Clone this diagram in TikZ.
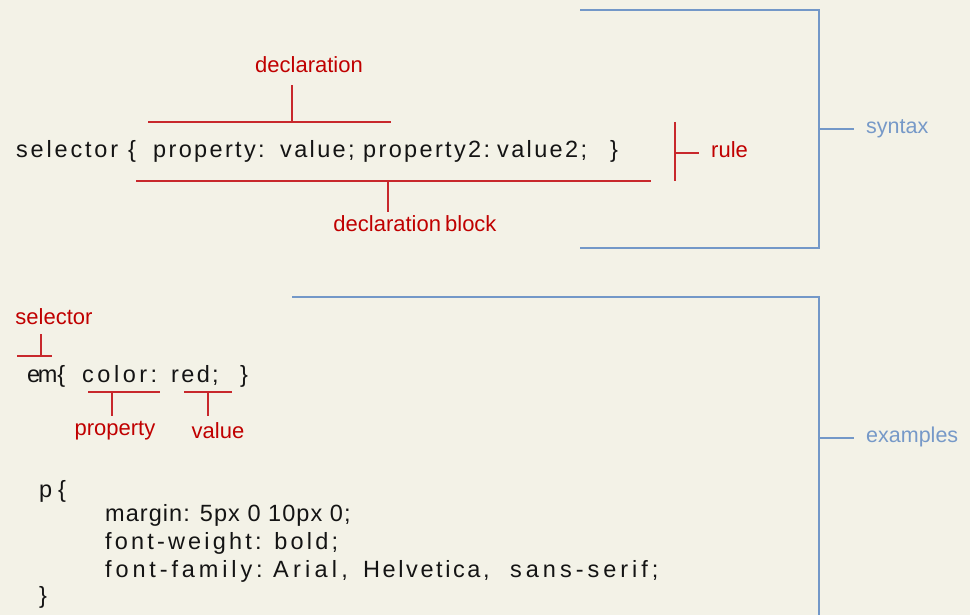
\documentclass[tikz,border=0pt]{standalone}
\usepackage{fontspec}
\setmainfont{Liberation Sans}
\newfontfamily\codefont{Liberation Sans}
% word with its own tracking (percent of the font size)
\newcommand\tracked[2]{{\addfontfeature{LetterSpace=#1}#2}}
\definecolor{paper}{HTML}{F3F2E7}
\definecolor{labelred}{HTML}{C00000}
\definecolor{linered}{HTML}{C8282C}
\definecolor{labelblue}{HTML}{7699C8}
\definecolor{lineblue}{HTML}{7398C8}
\definecolor{ink}{HTML}{141414}

\tikzset{
  code/.style={anchor=base west, inner sep=0pt, text=ink,
    font=\codefont\fontsize{23.5}{28}\selectfont},
  redlbl/.style={inner sep=0pt, text=labelred,
    font=\fontsize{22}{26}\selectfont},
  bluelbl/.style={anchor=west, inner sep=0pt, text=labelblue,
    font=\fontsize{21.5}{26}\selectfont},
  redline/.style={draw=linered, line width=1.5pt},
  blueline/.style={draw=lineblue, line width=2pt},
}

\begin{document}
\begin{tikzpicture}[x=1pt, y=-1pt]
\fill[paper] (0,0) rectangle (970,615);
\useasboundingbox (0,0) rectangle (970,615);

% ---------- syntax: one rule, word by word ----------
\node[code] (sySel)   at (16,158)  {\tracked{12}{selector}};
\node[code] (syOpen)  at (128,158) {\{};
\node[code] (syProp)  at (153,158) {\tracked{10}{property:}};
\node[code] (syVal)   at (280,158) {\tracked{10}{value;}};
\node[code] (syProp2) at (363,158) {\tracked{10}{property2:}};
\node[code] (syVal2)  at (497,158) {\tracked{10}{value2;}};
\node[code] (syClose) at (610,158) {\}};

\node[redlbl] (decl) at (309,65) {declaration};
\coordinate (declL) at (148,122);
\coordinate (declR) at (391,122);
\coordinate (declM) at (292,122);
\coordinate (declT) at (292,85);
\draw[redline] (declL) -- (declR);
\draw[redline] (declM) -- (declT);

\node[redlbl] (block) at (415,224) {declaration\hspace{-2pt} block};
\coordinate (blockL) at (136,181);
\coordinate (blockR) at (651,181);
\coordinate (blockM) at (388,181);
\coordinate (blockT) at (388,212);
\draw[redline] (blockL) -- (blockR);
\draw[redline] (blockM) -- (blockT);

\node[redlbl, anchor=west] (rule) at (711,150) {rule};
\coordinate (ruleTop) at (675,122);
\coordinate (ruleBot) at (675,181);
\coordinate (ruleMid) at (675,153);
\draw[redline] (ruleTop) -- (ruleBot);
\draw[redline] (ruleMid) -- (699,153);

\node[bluelbl] (syntax) at (866,129) {syntax};
\coordinate (synTL) at (580,10);
\coordinate (synTR) at (819,10);
\coordinate (synBR) at (819,248);
\coordinate (synBL) at (580,248);
\coordinate (synMid) at (819,129);
\draw[blueline] (synTL) -- (synTR) -- (synBR) -- (synBL);
\draw[blueline] (synMid) -- ([xshift=-12pt]synMid -| syntax.west);

% ---------- examples ----------
\node[redlbl] (sel) at (54,317) {selector};
\coordinate (selL) at (17,356);
\coordinate (selR) at (52,356);
\coordinate (selM) at (41,356);
\coordinate (selT) at (41,334);
\draw[redline] (selL) -- (selR);
\draw[redline] (selM) -- (selT);

\node[code] (emSel)   at (27,382)  {e\kern-2.5pt m\{};
\node[code] (emProp)  at (82,382)  {\tracked{15}{color:}};
\node[code] (emVal)   at (171,382) {\tracked{10}{red;}};
\node[code] (emClose) at (240,382) {\}};

\node[redlbl] (prop) at (115,431) {property};
\coordinate (propL) at (88,392);
\coordinate (propR) at (160,392);
\coordinate (propM) at (112,392);
\coordinate (propT) at (112,416);
\draw[redline] (propL) -- (propR);
\draw[redline] (propM) -- (propT);

\node[redlbl] (val) at (218,431) {value};
\coordinate (valL) at (184,392);
\coordinate (valR) at (232,392);
\coordinate (valM) at (208,392);
\coordinate (valT) at (208,416);
\draw[redline] (valL) -- (valR);
\draw[redline] (valM) -- (valT);

\node[code] (pSel)   at (39,497)  {p};
\node[code] (pOpen)  at (58,497)  {\{};
\node[code] (margin) at (105,521) {\tracked{4.5}{margin: 5px 0 10px 0;}};
\node[code] (weight) at (105,549) {\tracked{13.5}{font-weight: bold;}};
\node[code] (famKey) at (105,577) {\tracked{16.5}{font-family:}};
\node[code] (famA)   at (273,577) {\tracked{18}{Arial,}};
\node[code] (famH)   at (363,577) {\tracked{11}{Helvetica,}};
\node[code] (famS)   at (510,577) {\tracked{17}{sans-serif;}};
\node[code] (pClose) at (39,603)  {\}};

\node[bluelbl] (examples) at (866,437) {examples};
\coordinate (exTL) at (292,297);
\coordinate (exTR) at (819,297);
\coordinate (exBR) at (819,618);
\coordinate (exMid) at (819,438);
\draw[blueline] (exTL) -- (exTR) -- (exBR);
\draw[blueline] (exMid) -- ([xshift=-12pt]exMid -| examples.west);
\end{tikzpicture}
\end{document}
